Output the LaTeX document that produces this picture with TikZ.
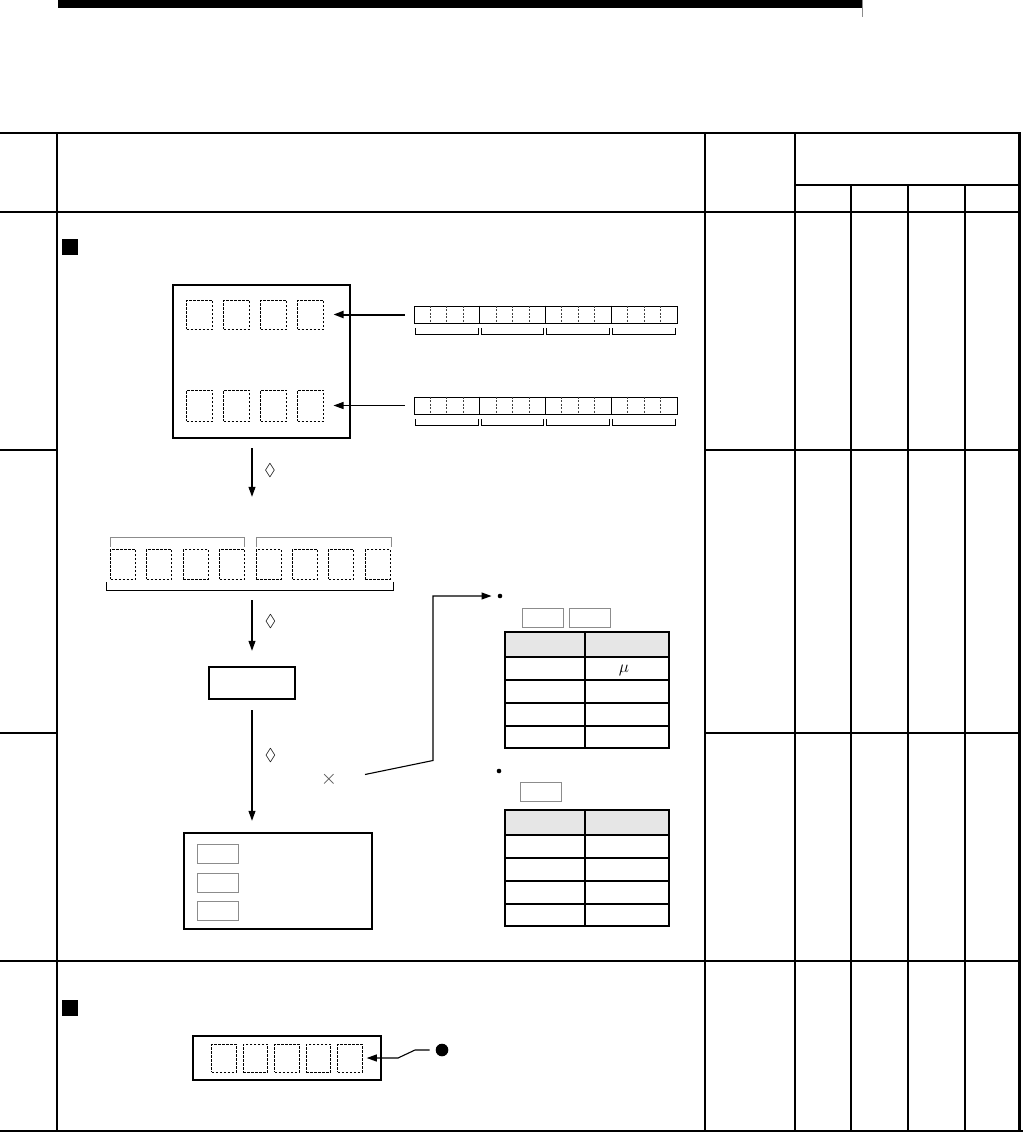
\documentclass[tikz,border=0pt]{standalone}
\usepackage{amsmath,amssymb}
\usepackage{tikz}
\usetikzlibrary{arrows.meta,positioning,calc}
\definecolor{cG}{HTML}{e6e6e6}
\definecolor{cL}{HTML}{8c8c8c}
\tikzset{
  thk/.style={line width=2.8pt},
  thn/.style={line width=1.1pt},
  cell/.style={draw,dash pattern=on 2.5pt off 1.5pt,line width=1pt,inner sep=0pt},
  frame/.style={draw,line width=2.4pt,inner sep=0pt},
  tag/.style={draw=cL,line width=1pt,minimum width=41pt,minimum height=19pt,inner sep=0pt},
  arr/.style={-{Triangle[length=10pt,width=7pt]},line width=1.1pt},
  dia/.style={font=\fontsize{17}{17}\selectfont,inner sep=0pt},
  dot/.style={circle,fill,inner sep=0pt,minimum size=#1},
}

\begin{document}
\begin{tikzpicture}[x=1pt,y=-1pt]
  \useasboundingbox (0,0) rectangle (1023,1134);
  \fill (58,0) rectangle (862,8);
  \draw[cL,line width=0.8pt] (862,0) -- (862,17);

  % table frame
  \draw[thk] (0,133) -- (1021,133) (0,212) -- (1021,212) (0,1131) -- (1023,1131);
  \draw[thk] (795,133) -- (795,1131) (965,185) -- (965,1131) (1019.5,133) -- (1019.5,1131);
  \draw[thn] (57,133) -- (57,1131) (705,133) -- (705,1131)
             (851,185) -- (851,1131) (908,185) -- (908,1131);
  \draw[thn] (795,185) -- (1019,185) (0,961) -- (1019,961);
  \draw[line width=1.8pt] (0,450) -- (57,450);
  \draw[thn] (0,733) -- (57,733);
  \foreach \y in {450,733}{\draw[thn] (705,\y) -- (1019,\y);}

  \node[fill,minimum size=16pt,inner sep=0pt] (sq1) at (69.5,247) {};
  \node[fill,minimum size=16pt,inner sep=0pt] (sq2) at (69.5,1008) {};

  % memory block and the two words
  \node[frame,minimum width=177pt,minimum height=153pt] (mem) at (261.5,361.5) {};
  \foreach \i in {1,...,4}{
    \node[cell,minimum width=26pt,minimum height=29pt] (u\i) at (162.5+37*\i,314.5) {};
    \node[cell,minimum width=26pt,minimum height=31pt] (l\i) at (162.5+37*\i,405.5) {};
  }
  \foreach \s/\y in {sA/314.5,sB/405.5}{
    \node[draw,line width=0.9pt,minimum width=263.6pt,minimum height=17pt,inner sep=0pt] (\s) at (545.8,\y) {};
    \foreach \k in {4,8,12}{\draw[line width=0.9pt] (\s.north west) ++(16.475*\k,0) -- ++(0,17);}
    \foreach \k in {1,2,3,5,6,7,9,10,11,13,14,15}{
      \draw[black!75,line width=0.7pt,dash pattern=on 2pt off 1.5pt] (\s.north west) ++(16.475*\k,0) -- ++(0,17);}
    \foreach \g in {0,...,3}{
      \draw[line width=0.9pt] (\s.south west) ++(65.9*\g+1.5,5) -- ++(0,6) -- ++(62.9,0) -- ++(0,-6);}
  }
  \draw[arr,line width=2pt,shorten <=9pt,shorten >=9.5pt] (sA.west) -- (u4.east);
  \draw[arr,shorten <=9pt,shorten >=9.5pt] (sB.west) -- (l4.east);

  % eight digits
  \node[minimum width=287pt,minimum height=52pt,inner sep=0pt] (rw) at (250.5,564) {};
  \foreach \i in {1,...,8}{
    \node[cell,minimum width=25pt,minimum height=30pt] (r\i) at (86.6+36.4*\i,564) {};
  }
  \draw[cL,line width=1pt] (rw.north west) ++(3.5,9) -- ++(0,-9) -- ++(134.5,0) -- ++(0,9);
  \draw[cL,line width=1pt] (rw.north) ++(5.5,9) -- ++(0,-9) -- ++(135,0) -- ++(0,9);
  \draw[line width=1pt] (rw.south west) ++(0,-8) -- ++(0,8) -- ++(287,0) -- ++(0,-8);

  \node[frame,minimum width=86pt,minimum height=32pt] (conv) at (252,683) {};
  \node[frame,minimum width=188pt,minimum height=96pt] (res) at (278,881) {};
  \foreach \i/\y in {1/854,2/882.5,3/910.5}{\node[tag] (rt\i) at (217.5,\y) {};}

  \draw[arr,shorten <=9pt,shorten >=41pt] (conv |- mem.south) -- (conv |- rw.north);
  \draw[arr,shorten <=10pt,shorten >=15pt] (conv |- rw.south) -- (conv.north);
  \draw[arr,shorten <=10pt,shorten >=11pt] (conv.south) -- (conv |- res.north);
  \node[dia] (dA) at (270,471) {$\lozenge$};
  \node[dia] (dB) at (270.5,622) {$\lozenge$};
  \node[dia] (dC) at (270.5,756) {$\lozenge$};
  \node[font=\fontsize{20}{20}\selectfont,text=black!70,inner sep=0pt] (mul) at (329,779.5) {$\times$};

  % the two tables
  \node[dot=4.6pt] (dotA) at (500,596) {};
  \node[dot=4.6pt] (dotC) at (499,771) {};
  \coordinate (wS) at (365,774.5);
  \draw[arr,shorten >=6pt] (wS) -- (433,760.5) |- (dotA);
  \node[tag] (tgA) at (542.5,617.5) {};
  \node[tag] (tgB) at (590,617.5) {};
  \node[tag] (tgC) at (540.5,792) {};
  \foreach \t in {632,810}{
    \fill[cG] (505,\t) rectangle (669,\t+25);
    \foreach \d in {48,71,94}{\draw[thn] (505,\t+\d) -- (669,\t+\d);}
    \draw[line width=1.8pt] (505,\t+25) -- (669,\t+25);
    \draw[line width=1.4pt] (585,\t) -- (585,\t+116);
    \draw[line width=1.8pt] (505,\t) rectangle (669,\t+116);
  }
  \node[font=\fontsize{17}{17}\selectfont,inner sep=0pt] (mu) at (624,670) {$\mu$};

  % display
  \node[frame,minimum width=188pt,minimum height=44pt] (disp) at (287,1058) {};
  \foreach \i in {1,...,5}{
    \node[cell,minimum width=24.5pt,minimum height=28pt] (e\i) at (192.5+31.5*\i,1058) {};
  }
  \node[dot=12.6pt] (dotB) at (442,1050) {};
  \draw[arr,shorten <=6pt,shorten >=4pt] (dotB) -- (415,1050) -- (398,1058) -- (e5);
\end{tikzpicture}
\end{document}
